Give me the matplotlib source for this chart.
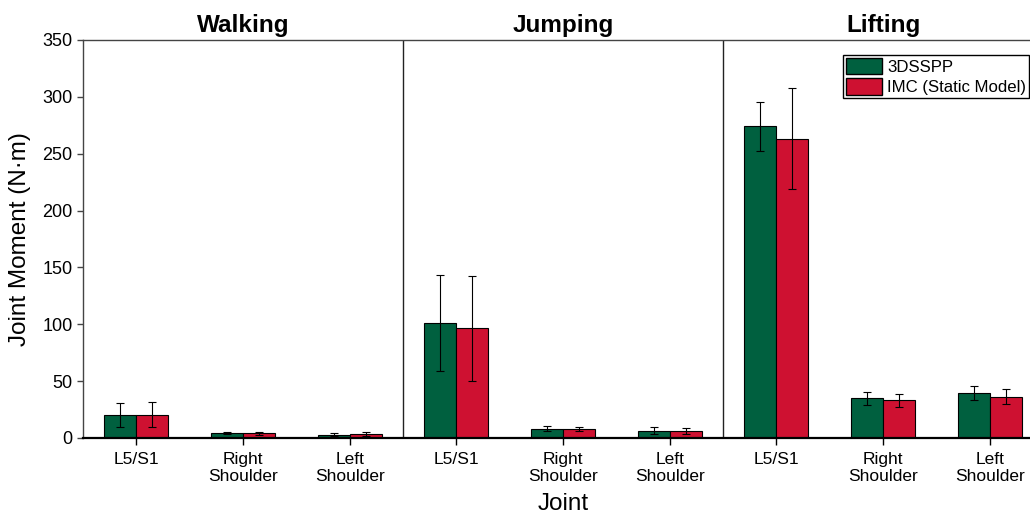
import numpy as np
import matplotlib
matplotlib.use('Agg')
import matplotlib.pyplot as plt
from matplotlib.patches import Patch

plt.rcParams['font.family'] = ['Liberation Sans', 'DejaVu Sans']

tasks = ['Walking', 'Jumping', 'Lifting']
joints = ['L5/S1', 'Right\nShoulder', 'Left\nShoulder']

# mean joint moments, 3 joints per task (walking, jumping, lifting)
dsspp_mean = [20.3, 4.4, 2.9, 101.2, 8.0, 6.3, 274.0, 34.9, 39.6]
dsspp_sd = [10.3, 1.2, 1.3, 42.5, 2.2, 3.1, 21.8, 5.9, 6.2]
imc_mean = [20.4, 4.0, 3.5, 96.6, 8.0, 6.2, 263.3, 33.1, 36.3]
imc_sd = [10.9, 1.2, 1.5, 46.2, 2.0, 2.7, 44.5, 5.8, 6.4]

green = '#00603F'
red = '#CE1131'

fig = plt.figure(figsize=(10.30, 5.21), dpi=100)
ax = fig.add_axes([83 / 1030, 1 - 438 / 521, 960 / 1030, 398 / 521])

x = np.arange(len(dsspp_mean))
w = 0.3
ax.bar(x - w / 2, dsspp_mean, w, color=green, edgecolor='black', linewidth=0.8)
ax.bar(x + w / 2, imc_mean, w, color=red, edgecolor='black', linewidth=0.8)
ax.errorbar(x - w / 2, dsspp_mean, yerr=dsspp_sd, fmt='none', ecolor='black',
            elinewidth=0.8, capsize=3, capthick=0.8)
ax.errorbar(x + w / 2, imc_mean, yerr=imc_sd, fmt='none', ecolor='black',
            elinewidth=0.8, capsize=3, capthick=0.8)

ax.set_xlim(-0.5, 8.5)
ax.set_ylim(0, 350)
ax.set_yticks(np.arange(0, 351, 50))
ax.set_xticks(x)
ax.set_xticklabels(joints * 3, fontsize=12.5)
ax.tick_params(axis='y', labelsize=13, direction='out', length=4, width=1, color='#444444')
ax.tick_params(axis='x', direction='out', length=5, width=1, pad=5)

for s in ['left', 'top', 'right']:
    ax.spines[s].set_color('#444444')
    ax.spines[s].set_linewidth(1)
ax.spines['bottom'].set_linewidth(1.6)

# separators between tasks
for b in [2.5, 5.5]:
    ax.axvline(b, color='#222222', linewidth=1)

for i, t in enumerate(tasks):
    ax.text(3 * i + 1, 353, t, ha='center', va='bottom', fontsize=17.5, fontweight='bold')

ax.set_ylabel('Joint Moment (N·m)', fontsize=17.5, labelpad=8)
ax.set_xlabel('Joint', fontsize=17.5, labelpad=6)

handles = [Patch(facecolor=green, edgecolor='black'), Patch(facecolor=red, edgecolor='black')]
leg = ax.legend(handles, ['3DSSPP', 'IMC (Static Model)'], loc='upper left',
                bbox_to_anchor=(760 / 960, 0.962), fontsize=12.1, fancybox=False,
                edgecolor='black', framealpha=1, handlelength=2.15, handleheight=1.15,
                handletextpad=0.32, borderpad=0.15, labelspacing=0.2, borderaxespad=0)
leg.get_frame().set_linewidth(1)

fig.savefig('out.png', dpi=100)
